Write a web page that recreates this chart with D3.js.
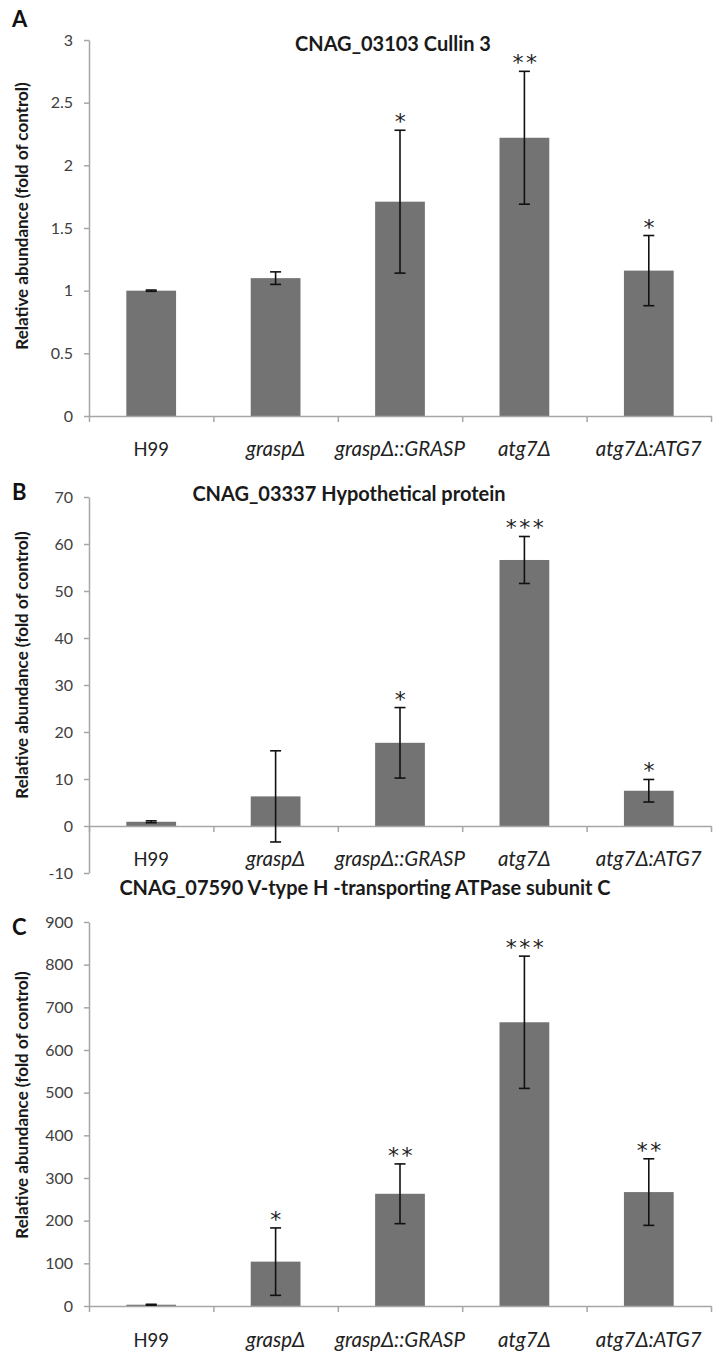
<!DOCTYPE html>
<html>
<head>
<meta charset="utf-8">
<script src="https://cdn.jsdelivr.net/npm/d3@7"></script>
<style>
  html, body { margin: 0; padding: 0; background: #fff; }
  svg { display: block; }
</style>
</head>
<body>
<svg id="chart" width="724" height="1359"></svg>
<script>
// ---------- data ----------
const categories = ["H99", "graspΔ", "graspΔ::GRASP", "atg7Δ", "atg7Δ:ATG7"];
const categoryItalic = [false, true, true, true, true];

const titleA = "CNAG_03103 Cullin 3";
const meansA = [1.0, 1.1, 1.71, 2.22, 1.16];
const errorsA = [0.005, 0.05, 0.57, 0.53, 0.28];
const starsA = ["", "", "*", "**", "*"];
const ticksA = [0, 0.5, 1, 1.5, 2, 2.5, 3];
const tickLabelsA = ["0", "0.5", "1", "1.5", "2", "2.5", "3"];

const titleB = "CNAG_03337 Hypothetical protein";
const meansB = [0.9, 6.3, 17.7, 56.6, 7.5];
const errorsB = [0.2, 9.7, 7.5, 5.0, 2.4];
const starsB = ["", "", "*", "***", "*"];
const ticksB = [-10, 0, 10, 20, 30, 40, 50, 60, 70];
const tickLabelsB = ["-10", "0", "10", "20", "30", "40", "50", "60", "70"];

const titleC = "CNAG_07590 V-type H -transporting ATPase subunit C";
const meansC = [3, 104, 263, 665, 267];
const errorsC = [1, 79, 70, 155, 78];
const starsC = ["", "*", "**", "***", "**"];
const ticksC = [0, 100, 200, 300, 400, 500, 600, 700, 800, 900];
const tickLabelsC = ["0", "100", "200", "300", "400", "500", "600", "700", "800", "900"];

const yAxisTitle = "Relative abundance (fold of control)";
const panelLetters = ["A", "B", "C"];

// ---------- layout ----------
const FONT = "Lato, 'Open Sans', sans-serif";
const BAR = "#737373";
const AXIS = "#a6a6a6";
const TXT = "#404040";
const xLeft = 89, xRight = 711;

const svg = d3.select("#chart");

function drawPanel(p) {
  const g = svg.append("g");
  const y = d3.scaleLinear().domain(p.domain).range([p.yBottom, p.yTop]);
  const xb = d3.scaleBand().domain(categories).range([xLeft, xRight])
    .paddingInner(0.6).paddingOuter(0.3);
  const xl = d3.scaleLinear().domain([0, categories.length]).range([xLeft, xRight]);

  // y axis
  const ya = g.append("g").attr("transform", `translate(${xLeft},0)`)
    .call(d3.axisLeft(y).tickValues(p.ticks)
      .tickFormat((d, i) => p.tickLabels[i]).tickSize(5).tickSizeOuter(0).tickPadding(11));
  ya.select(".domain").attr("stroke", AXIS).attr("stroke-width", 1.5);
  ya.selectAll(".tick line").attr("stroke", AXIS).attr("stroke-width", 1.5);
  ya.selectAll(".tick text").attr("font-family", FONT).attr("font-size", 16)
    .attr("fill", TXT);

  // bars
  g.selectAll("rect.bar").data(p.means).enter().append("rect")
    .attr("x", (d, i) => xb(categories[i]))
    .attr("width", xb.bandwidth())
    .attr("y", d => y(Math.max(0, d)))
    .attr("height", d => Math.abs(y(0) - y(d)))
    .attr("fill", BAR);

  // x axis at zero
  const xa = g.append("g").attr("transform", `translate(0,${y(0)})`)
    .call(d3.axisBottom(xl).tickValues(d3.range(categories.length + 1))
      .tickFormat("").tickSize(6).tickSizeOuter(0));
  xa.select(".domain").attr("stroke", AXIS).attr("stroke-width", 1.5);
  xa.selectAll(".tick line").attr("stroke", AXIS).attr("stroke-width", 1.5);

  // error bars
  const cx = i => xb(categories[i]) + xb.bandwidth() / 2;
  const eg = g.append("g").attr("stroke", "#111").attr("stroke-width", 1.6);
  p.means.forEach((m, i) => {
    const e = p.errors[i];
    eg.append("line").attr("x1", cx(i)).attr("x2", cx(i))
      .attr("y1", y(m - e)).attr("y2", y(m + e));
    [m - e, m + e].forEach(v => {
      eg.append("line").attr("x1", cx(i) - 5.5).attr("x2", cx(i) + 5.5)
        .attr("y1", y(v)).attr("y2", y(v));
    });
  });

  // stars
  g.selectAll("text.star").data(p.stars).enter().append("text")
    .attr("x", (d, i) => cx(i) + 1.5)
    .attr("y", (d, i) => y(p.means[i] + p.errors[i]) - 1)
    .attr("text-anchor", "middle")
    .attr("font-family", "'DejaVu Sans', sans-serif")
    .attr("font-size", 22)
    .attr("letter-spacing", 2.5)
    .attr("fill", "#222")
    .text(d => d);

  // category labels
  g.selectAll("text.cat").data(categories).enter().append("text")
    .attr("x", (d, i) => cx(i))
    .attr("y", p.catY)
    .attr("text-anchor", "middle")
    .attr("font-family", FONT)
    .attr("font-size", (d, i) => categoryItalic[i] ? 20.5 : 18.5)
    .attr("font-style", (d, i) => categoryItalic[i] ? "italic" : "normal")
    .attr("fill", "#222")
    .text(d => d);

  // title
  g.append("text").attr("x", p.titleX).attr("y", p.titleY)
    .attr("text-anchor", "middle").attr("font-family", FONT)
    .attr("font-weight", "bold").attr("font-size", 20).attr("fill", "#1a1a1a")
    .text(p.title);

  // y-axis title
  g.append("text")
    .attr("transform", `translate(28,${p.labelY}) rotate(-90)`)
    .attr("text-anchor", "middle").attr("font-family", FONT)
    .attr("font-weight", "bold").attr("font-size", 17).attr("fill", "#1a1a1a")
    .text(yAxisTitle);

  // panel letter
  g.append("text").attr("x", p.letterX).attr("y", p.letterY)
    .attr("font-family", FONT).attr("font-weight", "bold").attr("font-size", 22)
    .attr("fill", "#111").text(p.letter);
}

drawPanel({
  domain: [0, 3], yBottom: 416, yTop: 40, ticks: ticksA, tickLabels: tickLabelsA,
  means: meansA, errors: errorsA, stars: starsA, title: titleA,
  titleX: 393, titleY: 51, labelY: 216, catY: 456, letter: panelLetters[0], letterX: 12, letterY: 27
});
drawPanel({
  domain: [-10, 70], yBottom: 873, yTop: 497, ticks: ticksB, tickLabels: tickLabelsB,
  means: meansB, errors: errorsB, stars: starsB, title: titleB,
  titleX: 349, titleY: 501, labelY: 665, catY: 866, letter: panelLetters[1], letterX: 12, letterY: 500
});
drawPanel({
  domain: [0, 900], yBottom: 1306, yTop: 922, ticks: ticksC, tickLabels: tickLabelsC,
  means: meansC, errors: errorsC, stars: starsC, title: titleC,
  titleX: 365, titleY: 895, labelY: 1105, catY: 1347, letter: panelLetters[2], letterX: 12, letterY: 935
});
</script>
</body>
</html>
